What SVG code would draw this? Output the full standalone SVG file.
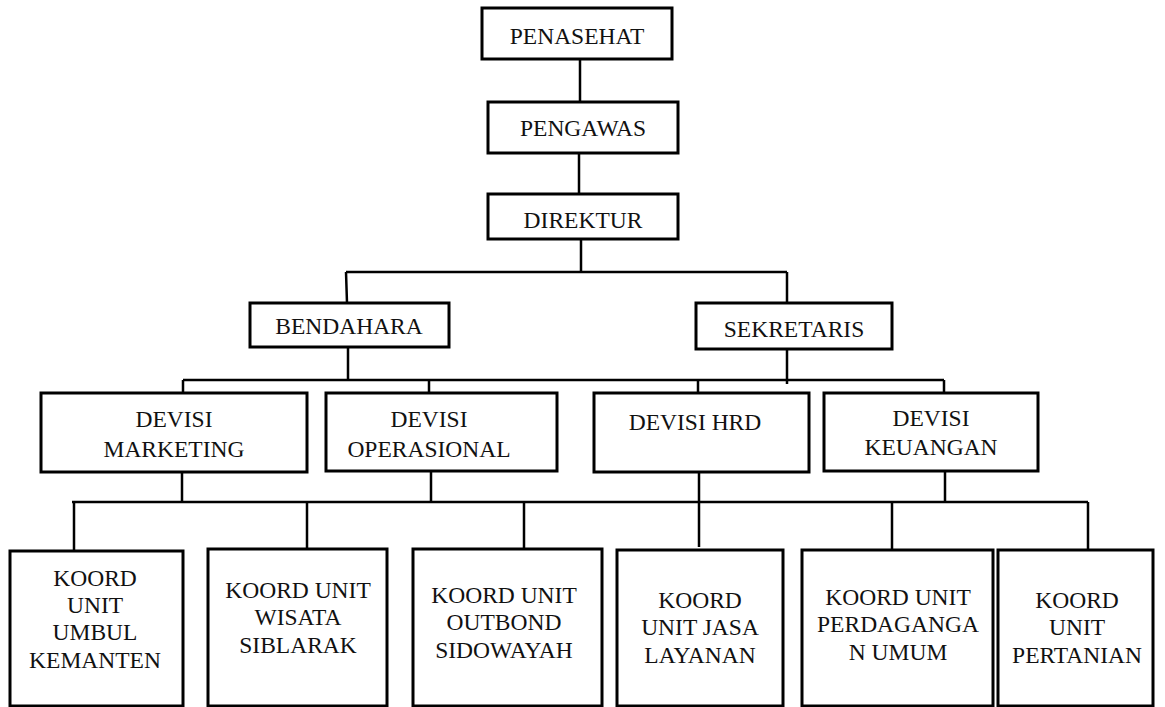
<svg xmlns="http://www.w3.org/2000/svg" width="1165" height="707" viewBox="0 0 1165 707">
<style>
.box{fill:#fff;stroke:#000;stroke-width:3}
.ln{fill:none;stroke:#000;stroke-width:2.5}
text{font-family:"Liberation Serif","Times New Roman",serif;font-size:23.5px;fill:#111;text-anchor:middle}
</style>
<rect width="1165" height="707" fill="#fff"/>
<g id="connectors">
<path class="ln" d="M580 59V102M579 153V194M581 239V272"/>
<path class="ln" d="M346 272H787M346 272L347 303M787 272V303"/>
<path class="ln" d="M348 347V380M787 349V384M183 380H944M183 380V393M429 380V393M698 380V393M944 380V393"/>
<path class="ln" d="M182 464V502M431 464V502M945 464V502M699 463V547M72 502H1088M74 502V551M307 502V549M524 502V548M892 502V550M1088 502V550"/>
</g>
<g id="penasehat"><rect class="box" x="482" y="8" width="190" height="51"/><text x="577" y="44">PENASEHAT</text></g>
<g id="pengawas"><rect class="box" x="488" y="102" width="190" height="51"/><text x="583" y="136">PENGAWAS</text></g>
<g id="direktur"><rect class="box" x="488" y="194" width="190" height="45"/><text x="583" y="228">DIREKTUR</text></g>
<g id="bendahara"><rect class="box" x="250" y="303" width="199" height="44"/><text x="349" y="334">BENDAHARA</text></g>
<g id="sekretaris"><rect class="box" x="696" y="303" width="196" height="46"/><text x="794" y="337">SEKRETARIS</text></g>
<g id="devisi-marketing"><rect class="box" x="41" y="393" width="266" height="79"/><text x="174" y="427">DEVISI</text><text x="174" y="457">MARKETING</text></g>
<g id="devisi-operasional"><rect class="box" x="326" y="393" width="231" height="78"/><text x="429" y="427">DEVISI</text><text x="429" y="457">OPERASIONAL</text></g>
<g id="devisi-hrd"><rect class="box" x="594" y="393" width="215" height="79"/><text x="695" y="430">DEVISI HRD</text></g>
<g id="devisi-keuangan"><rect class="box" x="824" y="393" width="214" height="78"/><text x="931" y="426">DEVISI</text><text x="931" y="455">KEUANGAN</text></g>
<g id="koord-umbul"><rect class="box" x="10" y="551" width="173" height="155"/><text x="95" y="586">KOORD</text><text x="95" y="613">UNIT</text><text x="95" y="640">UMBUL</text><text x="95" y="668">KEMANTEN</text></g>
<g id="koord-wisata"><rect class="box" x="208" y="549" width="179" height="157"/><text x="298" y="598">KOORD UNIT</text><text x="298" y="625">WISATA</text><text x="298" y="653">SIBLARAK</text></g>
<g id="koord-outbond"><rect class="box" x="413" y="549" width="189" height="157"/><text x="504" y="603">KOORD UNIT</text><text x="504" y="630">OUTBOND</text><text x="504" y="658">SIDOWAYAH</text></g>
<g id="koord-jasa"><rect class="box" x="617" y="550" width="166" height="156"/><text x="700" y="608">KOORD</text><text x="700" y="635">UNIT JASA</text><text x="700" y="663">LAYANAN</text></g>
<g id="koord-perdagangan"><rect class="box" x="802" y="550" width="191" height="156"/><text x="898" y="605">KOORD UNIT</text><text x="898" y="632">PERDAGANGA</text><text x="898" y="660">N UMUM</text></g>
<g id="koord-pertanian"><rect class="box" x="998" y="550" width="155" height="156"/><text x="1077" y="608">KOORD</text><text x="1077" y="635">UNIT</text><text x="1077" y="663">PERTANIAN</text></g>
</svg>
